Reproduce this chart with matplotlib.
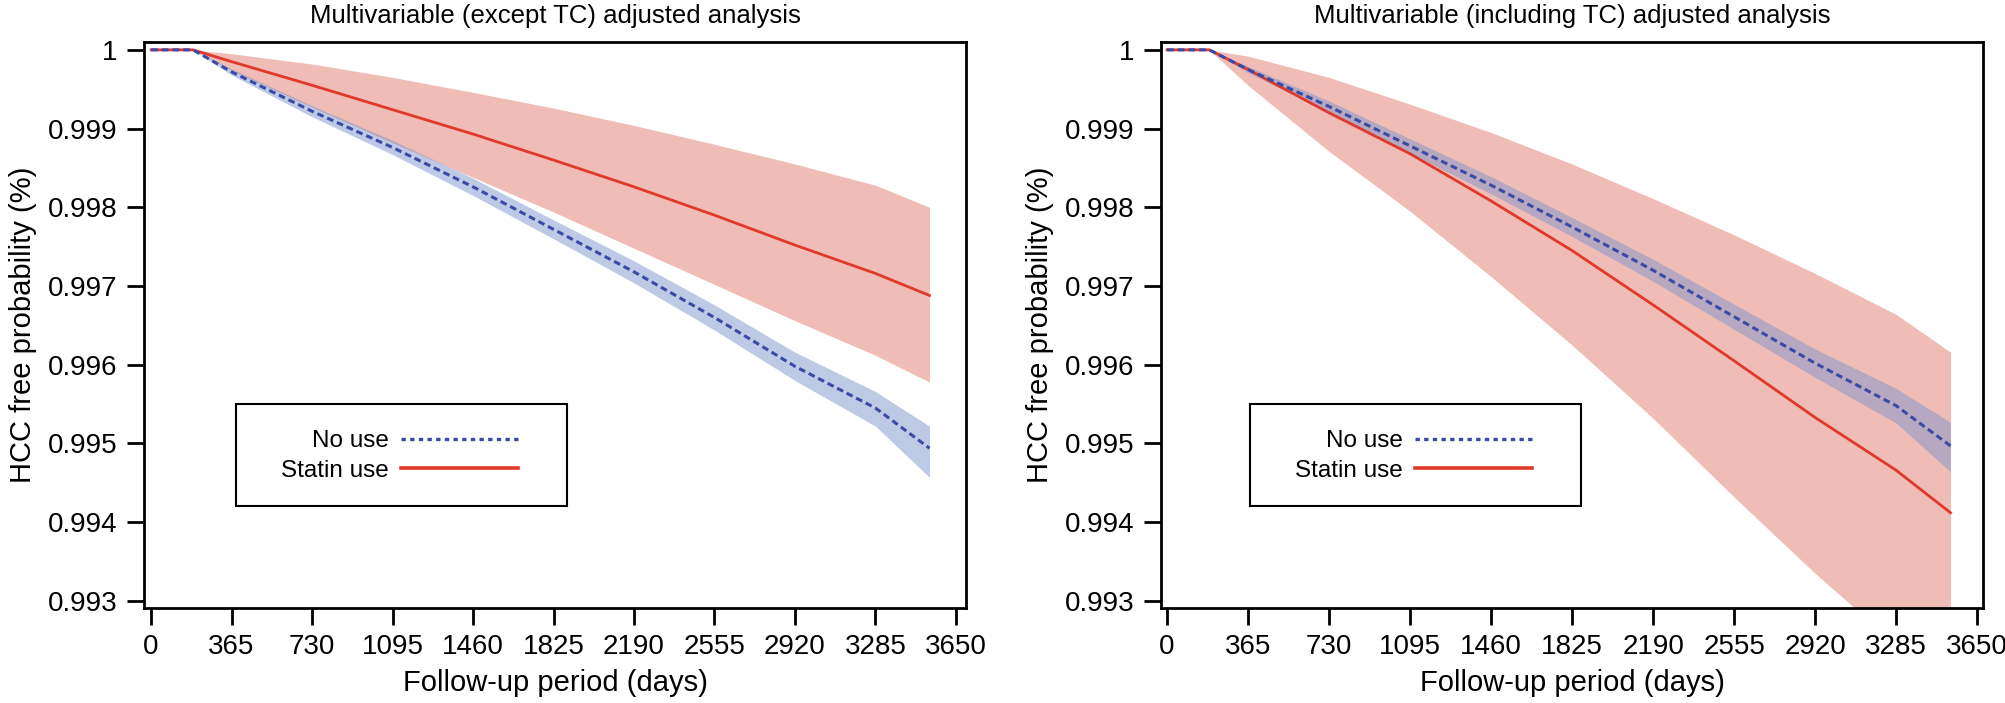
# HCC free probability by statin use, two adjusted models side by side

import matplotlib.pyplot as plt
from matplotlib.patches import Rectangle
from matplotlib.lines import Line2D
import numpy as np

plt.rcParams["font.family"] = ["Liberation Sans", "DejaVu Sans"]

days = [0, 190, 365, 730, 1095, 1460, 1825, 2190, 2555, 2920, 3285, 3530]

# left panel: multivariable (except TC)
l_statin = [1, 1, 0.99985, 0.99955, 0.99924, 0.99893, 0.99860, 0.99826, 0.99790, 0.99752, 0.99716, 0.99688]
l_statin_hi = [1, 1, 0.99995, 0.99982, 0.99965, 0.99946, 0.99926, 0.99904, 0.99880, 0.99855, 0.99828, 0.99800]
l_statin_lo = [1, 1, 0.99974, 0.99927, 0.99882, 0.99838, 0.99794, 0.99748, 0.99702, 0.99656, 0.99612, 0.99578]
l_nouse = [1, 1, 0.99972, 0.99922, 0.99876, 0.99826, 0.99772, 0.99718, 0.99660, 0.99598, 0.99545, 0.99494]
l_nouse_hi = [1, 1, 0.99976, 0.99929, 0.99885, 0.99837, 0.99784, 0.99732, 0.99676, 0.99616, 0.99566, 0.99522]
l_nouse_lo = [1, 1, 0.99968, 0.99915, 0.99867, 0.99815, 0.99760, 0.99704, 0.99644, 0.99580, 0.99522, 0.99457]

# right panel: multivariable (including TC)
r_statin = [1, 1, 0.99975, 0.99920, 0.99868, 0.99808, 0.99745, 0.99676, 0.99605, 0.99533, 0.99466, 0.99412]
r_statin_hi = [1, 1, 0.99992, 0.99965, 0.99931, 0.99895, 0.99855, 0.99811, 0.99765, 0.99716, 0.99664, 0.99616]
r_statin_lo = [1, 1, 0.99955, 0.99871, 0.99795, 0.99712, 0.99625, 0.99532, 0.99432, 0.99335, 0.99245, 0.99190]
r_nouse = [1, 1, 0.99975, 0.99928, 0.99878, 0.99828, 0.99775, 0.99720, 0.99661, 0.99602, 0.99548, 0.99497]
r_nouse_hi = [1, 1, 0.99979, 0.99935, 0.99887, 0.99839, 0.99787, 0.99734, 0.99677, 0.99620, 0.99570, 0.99527]
r_nouse_lo = [1, 1, 0.99971, 0.99921, 0.99869, 0.99817, 0.99763, 0.99706, 0.99645, 0.99584, 0.99526, 0.99464]

x_ticks = [0, 365, 730, 1095, 1460, 1825, 2190, 2555, 2920, 3285, 3650]
y_ticks = [0.993, 0.994, 0.995, 0.996, 0.997, 0.998, 0.999, 1]
y_labels = ["0.993", "0.994", "0.995", "0.996", "0.997", "0.998", "0.999", "1"]

titles = ["Multivariable (except TC) adjusted analysis",
          "Multivariable (including TC) adjusted analysis"]

red = "#e0382b"
blue = "#3a4aa6"
red_fill = "#e5867a"
blue_fill = "#7f96cc"

fig = plt.figure(figsize=(20.06, 7.03), dpi=100)
ax1 = fig.add_axes([0.0718, 0.1351, 0.4098, 0.8052])
ax2 = fig.add_axes([0.5788, 0.1351, 0.4098, 0.8052])

panels = [
    (ax1, l_statin, l_statin_hi, l_statin_lo, l_nouse, l_nouse_hi, l_nouse_lo, (-32, 3696), 0.112),
    (ax2, r_statin, r_statin_hi, r_statin_lo, r_nouse, r_nouse_hi, r_nouse_lo, (-27, 3677), 0.108),
]

for i, (ax, st, st_hi, st_lo, nu, nu_hi, nu_lo, xl, box_x) in enumerate(panels):
    ax.fill_between(days, st_lo, st_hi, color=red_fill, alpha=0.55, linewidth=0)
    ax.fill_between(days, nu_lo, nu_hi, color=blue_fill, alpha=0.5, linewidth=0)
    ax.plot(days, st, color=red, linewidth=2.0)
    ax.plot(days, nu, color=blue, linewidth=2.2, linestyle=(0, (2.2, 1.3)))

    ax.set_xlim(xl)
    ax.set_ylim(0.99291, 1.0001)
    ax.set_xticks(x_ticks)
    ax.set_xticklabels([str(t) for t in x_ticks])
    ax.set_yticks(y_ticks)
    ax.set_yticklabels(y_labels)
    ax.tick_params(labelsize=20, length=12, width=2, pad=7, direction="out")
    for s in ax.spines.values():
        s.set_linewidth(2)
    ax.set_title(titles[i], fontsize=18.5, pad=14)
    ax.set_xlabel("Follow-up period (days)", fontsize=21, labelpad=6)
    ax.set_ylabel("HCC free probability (%)", fontsize=21, labelpad=8)

    # legend frame, then legend entries without their own frame
    ax.add_patch(Rectangle((box_x, 0.1802), 0.403, 0.1802, transform=ax.transAxes,
                           fill=False, edgecolor="black", linewidth=1.5, zorder=5))
    handles = [Line2D([], [], color=blue, linewidth=2.4, linestyle=(0, (1.3, 1.3))),
               Line2D([], [], color=red, linewidth=2.6)]
    ax.legend(handles, ["No use", "Statin use"], loc="center right",
              bbox_to_anchor=(box_x + 0.3576, 0.2686), frameon=False, markerfirst=False,
              fontsize=17.5, handlelength=4.8, handletextpad=0.5, borderpad=0,
              labelspacing=0.3)

plt.savefig("out.png", dpi=100)
